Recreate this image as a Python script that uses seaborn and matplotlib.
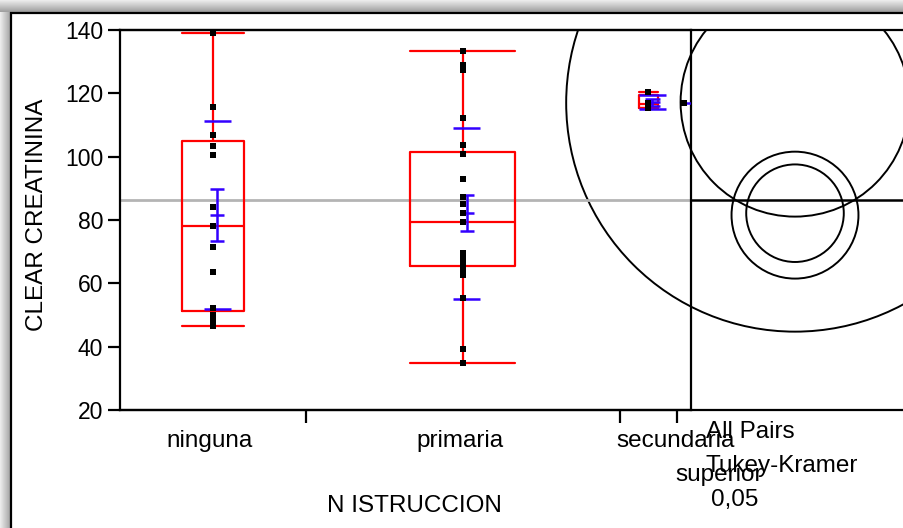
import numpy as np
import pandas as pd
import matplotlib
matplotlib.use("Agg")
import matplotlib.pyplot as plt
import matplotlib.transforms as mtransforms
from matplotlib.patches import Circle
import seaborn as sns

# ---- data -------------------------------------------------------------
groups = ["ninguna", "primaria", "secundaria", "superior"]
ninguna = [139.2, 115.8, 106.8, 103.3, 100.4, 84.2, 78.2, 71.6, 63.6,
           52.3, 50.0, 48.2, 46.4]
primaria = [133.5, 129.1, 127.5, 112.2, 103.6, 100.9, 93.0, 87.4, 85.0,
            82.3, 79.5, 79.4, 69.6, 68.4, 67.3, 66.5, 65.8, 64.0, 62.6,
            55.5, 39.4, 34.7]
secundaria = [120.3, 117.0, 116.2, 115.3]
superior = [117.0]
y_ticks = [20, 40, 60, 80, 100, 120, 140]
x_title = "N ISTRUCCION"
y_title = "CLEAR CREATININA"
test_lines = ["All Pairs", "Tukey-Kramer", "0,05"]
tukey_q = 2.69  # Tukey-Kramer quantile (alpha 0.05, 4 groups)

values = [ninguna, primaria, secundaria, superior]
df = pd.DataFrame({
    "N ISTRUCCION": np.repeat(groups, [len(v) for v in values]),
    y_title: np.concatenate(values),
})

# x axis: each level gets a slot proportional to its sample size
counts = df.groupby("N ISTRUCCION", sort=False)[y_title].size().reindex(groups).to_numpy()
edges = np.concatenate([[0], np.cumsum(counts)])
centers = (edges[:-1] + edges[1:]) / 2
df["x"] = df["N ISTRUCCION"].map(dict(zip(groups, centers)))

# ---- style ------------------------------------------------------------
sns.set_style("white")
plt.rcParams["font.family"] = ["Liberation Sans", "DejaVu Sans"]
plt.rcParams["text.color"] = "black"
plt.rcParams["axes.labelcolor"] = "black"
plt.rcParams["xtick.color"] = "black"
plt.rcParams["ytick.color"] = "black"
RED = "#ff0000"
BLUE = "#3300ff"
W, H = 904, 528
FS = 17.5

fig = plt.figure(figsize=(W / 100, H / 100), dpi=100, facecolor="white")

def fig_rect(x0, y0, x1, y1):
    return [x0 / W, 1 - y1 / H, (x1 - x0) / W, (y1 - y0) / H]

# window shading and frame
bg = fig.add_axes([0, 0, 1, 1], zorder=-2)
bg.set_xlim(0, W)
bg.set_ylim(H, 0)
bg.axis("off")
bg.imshow(np.linspace(0.93, 0.62, 24)[:, None] * np.ones((1, 4)), cmap="gray",
          vmin=0, vmax=1, extent=(0, W, 12, 0), aspect="auto")
bg.imshow(np.linspace(0.93, 0.66, 20)[None, :] * np.ones((4, 1)), cmap="gray",
          vmin=0, vmax=1, extent=(0, 10, H, 12), aspect="auto")
bg.plot([10, W], [13, 13], color="black", lw=1.6, solid_capstyle="butt")
bg.plot([11.2, 11.2], [12, H], color="black", lw=1.6, solid_capstyle="butt")

# plot region geometry (pixels)
PL, PR, PT, PB, SPLIT = 120, 904, 30, 410, 691
ymin, ymax = 20, 140
px_per_unit = (PB - PT) / (ymax - ymin)

# comparison-circle layer spanning whole plot region (equal aspect)
cax = fig.add_axes(fig_rect(PL, PT, PR, PB), zorder=0)
circle_cx_px = 795
x_lo = -(circle_cx_px - PL) / px_per_unit
x_hi = x_lo + (PR - PL) / px_per_unit
cax.set_xlim(x_lo, x_hi)
cax.set_ylim(ymin, ymax)
cax.set_xticks([])
cax.set_yticks([])
for s in ["left", "right"]:
    cax.spines[s].set_visible(False)
for s in ["top", "bottom"]:
    cax.spines[s].set_linewidth(1.6)
    cax.spines[s].set_color("black")

stats_df = df.groupby("N ISTRUCCION", sort=False)[y_title].agg(["mean", "std", "count"]).reindex(groups)
resid_ss = sum(((np.array(v) - np.mean(v)) ** 2).sum() for v in values)
dof = len(df) - len(groups)
s_pooled = np.sqrt(resid_ss / dof)
grand_mean = df[y_title].mean()

for g in groups:
    m = stats_df.loc[g, "mean"]
    n = stats_df.loc[g, "count"]
    r = tukey_q * s_pooled / np.sqrt(n)
    cax.add_patch(Circle((0, m), r, fill=False, edgecolor="black", lw=1.4))

panel_left = x_lo + (SPLIT - PL) / px_per_unit
cax.hlines(grand_mean, panel_left, x_hi, color="black", lw=1.8)

# main oneway plot
ax = fig.add_axes(fig_rect(PL, PT, SPLIT, PB), zorder=1)
ax.patch.set_alpha(0)
ax.set_xlim(edges[0], edges[-1])
ax.set_ylim(ymin, ymax)

ax.axhline(grand_mean, color="#b4b4b4", lw=2.0, zorder=1)

# outlier box plots (JMP-style quantiles)
bstats, pos, widths = [], [], []
for g, c, v in zip(groups, centers, values):
    v = np.asarray(v)
    if len(v) < 2:
        continue
    q1, med, q3 = np.quantile(v, [0.25, 0.5, 0.75], method="weibull")
    iqr = q3 - q1
    lo = v[v >= q1 - 1.5 * iqr].min()
    hi = v[v <= q3 + 1.5 * iqr].max()
    bstats.append(dict(med=med, q1=q1, q3=q3, whislo=lo, whishi=hi, fliers=[]))
    pos.append(c)
    widths.append(len(v) / 3)
line_kw = dict(color=RED, lw=1.6)
ax.bxp(bstats, positions=pos, widths=widths, capwidths=widths, showfliers=False,
       boxprops=line_kw, whiskerprops=line_kw, capprops=line_kw,
       medianprops=line_kw, manage_ticks=False, zorder=3)

# means with standard-error bars and std-dev lines
off = 0.3
for g, c in zip(groups, centers):
    m = stats_df.loc[g, "mean"]
    n = stats_df.loc[g, "count"]
    xc = c + off
    ax.hlines(m, xc - 0.5, xc + 0.5, color=BLUE, lw=1.8, zorder=4)
    if n > 1:
        sd = stats_df.loc[g, "std"]
        se = sd / np.sqrt(n)
        ax.vlines(xc, m - se, m + se, color=BLUE, lw=1.8, zorder=4)
        ax.hlines([m - se, m + se], xc - 0.5, xc + 0.5, color=BLUE, lw=1.8, zorder=4)
        ax.hlines([m - sd, m + sd], xc - 0.95, xc + 0.95, color=BLUE, lw=1.8, zorder=4)

sns.scatterplot(data=df, x="x", y=y_title, ax=ax, marker="s", color="black",
                s=22, linewidth=0, legend=False, zorder=5)

for s in ax.spines.values():
    s.set_linewidth(1.6)
    s.set_color("black")
    s.set_visible(True)
ax.set_xlabel("")
ax.set_ylabel("")
ax.set_xticks(edges[1:-1])
ax.set_xticklabels([])
ax.set_yticks(y_ticks)
ax.set_yticklabels([str(t) for t in y_ticks])
ax.tick_params(axis="both", direction="out", length=9, width=1.6, color="black",
               labelcolor="black", labelsize=16.5, pad=3, left=True, bottom=True)

# level labels (crowded ones drop to a second row)
label_x = [centers[0] - 0.2, centers[1] - 0.2, 38.9, 42.0]
label_row = [0, 0, 0, 1]
trans = mtransforms.blended_transform_factory(ax.transData, ax.transAxes)
for g, lx, row in zip(groups, label_x, label_row):
    ly = (PB - (441 + 34 * row)) / (PB - PT)
    ax.text(lx, ly, g, transform=trans, ha="center", va="center",
            fontsize=FS, clip_on=False)

fig.text(414 / W, 1 - 506 / H, x_title, ha="center", va="center", fontsize=FS)
fig.text(37 / W, 1 - 215 / H, y_title, ha="center", va="center", fontsize=FS,
         rotation=90)
for txt, (tx, ty) in zip(test_lines, [(706, 432), (706, 466), (711, 500)]):
    fig.text(tx / W, 1 - ty / H, txt, ha="left", va="center", fontsize=FS)

fig.savefig("out.png", dpi=100)
